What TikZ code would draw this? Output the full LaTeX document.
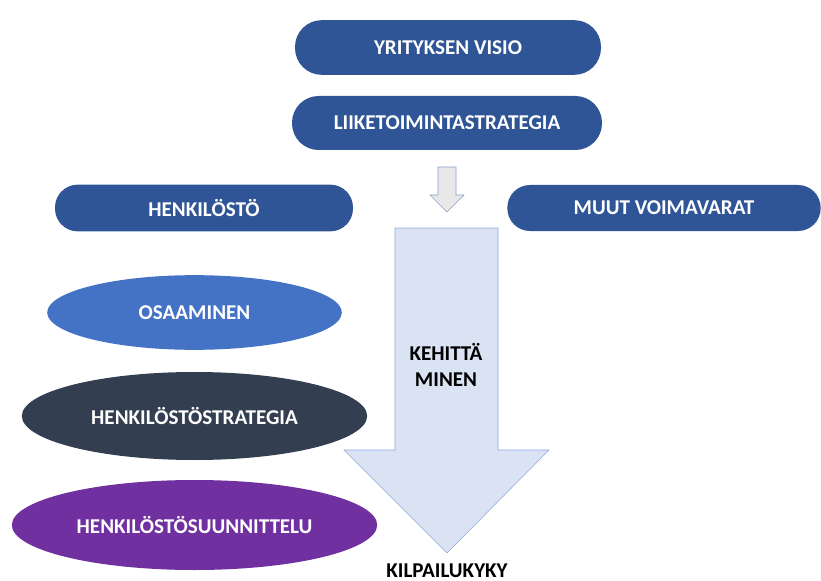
\documentclass[tikz,border=0pt]{standalone}
\usepackage{fontspec}
\setmainfont{Carlito}
\usepackage{xcolor}
\usepackage{tikz}
\usetikzlibrary{positioning,shapes.geometric}
\definecolor{darkblue}{HTML}{2F5597}
\definecolor{midblue}{HTML}{4472C4}
\definecolor{slate}{HTML}{333F50}
\definecolor{purple}{HTML}{7030A0}
\definecolor{arrowfill}{HTML}{DAE3F3}
\definecolor{arrowline}{HTML}{8FAADC}
\tikzset{
  pill/.style={rounded corners=20pt,fill=darkblue,text=white,font=\bfseries\fontsize{15.8}{18}\selectfont,inner sep=0pt},
  oval/.style={ellipse,text=white,font=\bfseries\fontsize{15.8}{18}\selectfont,inner sep=0pt},
  label/.style={font=\bfseries\fontsize{15.8}{20}\selectfont,text=black,align=center}
}
\begin{document}
\begin{tikzpicture}[x=0.75pt,y=-0.75pt]
\useasboundingbox (0,0) rectangle (821,581);
\node[pill,minimum width=229.5pt,minimum height=41pt] (visio) at (448,47.5) {YRITYKSEN VISIO};
\node[pill,minimum width=232.5pt,minimum height=40.5pt] (strat) at (447,123) {LIIKETOIMINTASTRATEGIA};
\node[pill,rounded corners=17pt,minimum width=223.5pt,minimum height=35pt] (henk) at (204,208) {HENKILÖSTÖ};
\node[pill,rounded corners=17pt,minimum width=235pt,minimum height=34.5pt] (muut) at (664,208) {MUUT VOIMAVARAT};
\node[oval,fill=midblue,minimum width=221pt,minimum height=56pt] (osaa) at (194.5,312.5) {OSAAMINEN};
\node[oval,fill=slate,minimum width=259pt,minimum height=66pt] (hstrat) at (194.5,416) {HENKILÖSTÖSTRATEGIA};
\node[oval,fill=purple,minimum width=274pt,minimum height=67.5pt] (hsuun) at (194.5,525) {HENKILÖSTÖSUUNNITTELU};
% small arrow
\draw[fill=gray!18,draw=arrowline!80!gray] (438,167) -- (456,167) -- (456,195) -- (464,195)
  -- (447,212) -- (430,195) -- (438,195) -- cycle;
% big arrow
\draw[fill=arrowfill,draw=arrowline] (395,228) -- (498,228) -- (498,450) -- (549,450)
  -- (447,553) -- (344,450) -- (395,450) -- cycle;
\node[label] (kehi) at (446,365) {KEHITTÄ\\MINEN};
\node[label] (kilp) at (447,571) {KILPAILUKYKY};
\end{tikzpicture}
\end{document}
